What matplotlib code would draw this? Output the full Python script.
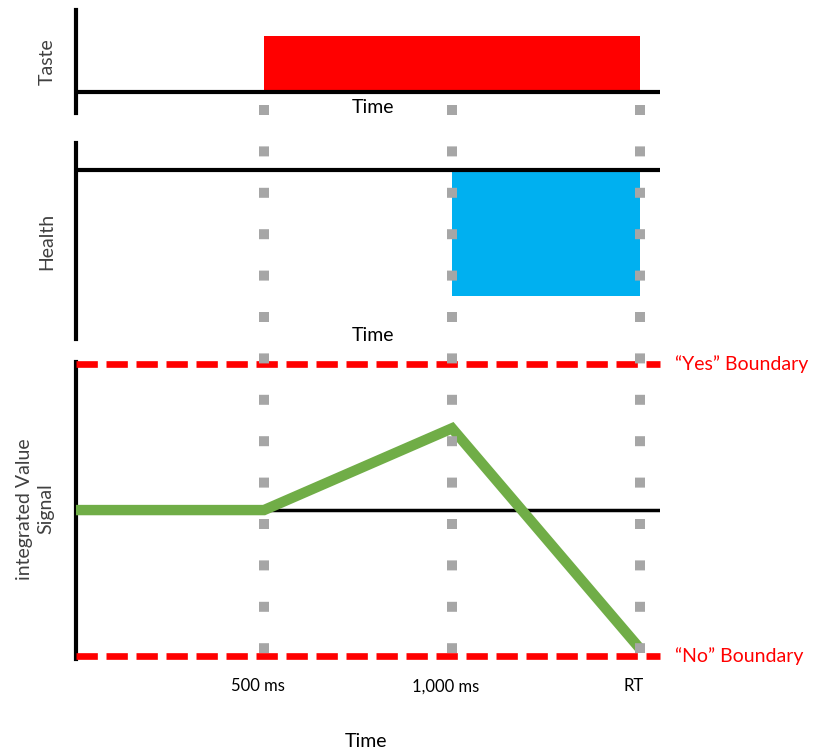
import matplotlib.pyplot as plt
import matplotlib.transforms as mtransforms

plt.rcParams['font.family'] = ['Lato', 'DejaVu Sans']

# data
time_ms = [0, 500, 1000, 1500]
signal = [0, 0, 0.56, -0.95]
taste_window = (500, 1500)
health_window = (1000, 1500)
tick_pos = [500, 1000, 1500]
tick_labels = ['500 ms', '1,000 ms', 'RT']
boundaries = [1, -1]
boundary_labels = ['\u201cYes\u201d Boundary', '\u201cNo\u201d Boundary']

W, H = 815, 750
XMAX = 1553


def box(top, bottom, left=76, right=660):
    # pixel box -> figure fraction
    return [left / W, 1 - bottom / H, (right - left) / W, (bottom - top) / H]


fig = plt.figure(figsize=(8.15, 7.5), dpi=100)
ax1 = fig.add_axes(box(10, 113))
ax2 = fig.add_axes(box(143, 339))
ax3 = fig.add_axes(box(362, 659))
over = fig.add_axes([76 / W, 0, 584 / W, 1])

for ax in (ax1, ax2, ax3):
    ax.set_facecolor('none')
    ax.set_xlim(0, XMAX)
    for s in ('top', 'right', 'bottom'):
        ax.spines[s].set_visible(False)
    ax.spines['left'].set_linewidth(3)
    ax.spines['left'].set_color('black')
    ax.set_yticks([])
    ax.set_xticks([])

fs = 14

# Taste
ax1.set_ylim(-0.375, 1.464)
ax1.axhline(0, color='black', lw=3, zorder=3)
ax1.axvspan(taste_window[0], taste_window[1], ymin=0.375 / 1.839, ymax=1.375 / 1.839,
            color='#FF0000', lw=0, zorder=2)
ax1.text(-0.05, 0.5, 'Taste', rotation=90, ha='center', va='center',
         transform=ax1.transAxes, fontsize=fs, color='#404040')
ax1.text(0.508, 0.05, 'Time', ha='center', va='center', transform=ax1.transAxes,
         fontsize=fs)

# Health
ax2.set_ylim(-1.339, 0.218)
ax2.axhline(0, color='black', lw=3, zorder=3)
ax2.fill_between(health_window, -1, 0, color='#00B0F0', lw=0, zorder=2)
ax2.text(-0.05, 0.5, 'Health', rotation=90, ha='center', va='center',
         transform=ax2.transAxes, fontsize=fs, color='#404040')
ax2.text(0.508, 0.02, 'Time', ha='center', va='center', transform=ax2.transAxes,
         fontsize=fs)

# Integrated signal
ax3.set_ylim(-1.02, 1.014)
ax3.axhline(0, color='black', lw=2.5, zorder=2)
for b, lab in zip(boundaries, boundary_labels):
    ax3.plot([0, XMAX], [b, b], color='#FF0000', lw=4.8,
             linestyle=(0, (3.2, 1.3)), clip_on=False, zorder=3)
    ax3.annotate(lab, xy=(1, b), xycoords=('axes fraction', 'data'),
                 xytext=(11, 0), textcoords='offset points',
                 ha='left', va='center', color='#FF0000', fontsize=fs)
ax3.plot(time_ms, signal, color='#70AD47', lw=7.5, solid_joinstyle='miter',
         solid_capstyle='butt', zorder=4)
ax3.text(-0.07, 0.505, 'integrated Value\nSignal', rotation=90, ha='center',
         va='center', transform=ax3.transAxes, fontsize=fs, color='#404040',
         linespacing=1.35)
ax3.set_xticks(tick_pos)
ax3.set_xticklabels(tick_labels, fontsize=12)
ax3.tick_params(axis='x', length=0, pad=14)
off = mtransforms.ScaledTranslation(-6 / 100, 0, fig.dpi_scale_trans)
for t in ax3.get_xticklabels():
    t.set_transform(t.get_transform() + off)
ax3.text(0.497, -0.279, 'Time', ha='center', va='center', transform=ax3.transAxes,
         fontsize=fs)

# gray dotted guides
over.set_xlim(0, XMAX)
over.set_ylim(0, 1)
over.axis('off')
for x in tick_pos:
    over.plot([x, x], [1 - 105 / H, 1 - 653 / H], color='#A6A6A6', lw=7.2,
              linestyle=(0, (1.0, 3.14)), dash_capstyle='butt')

fig.savefig('out.png', dpi=100)
